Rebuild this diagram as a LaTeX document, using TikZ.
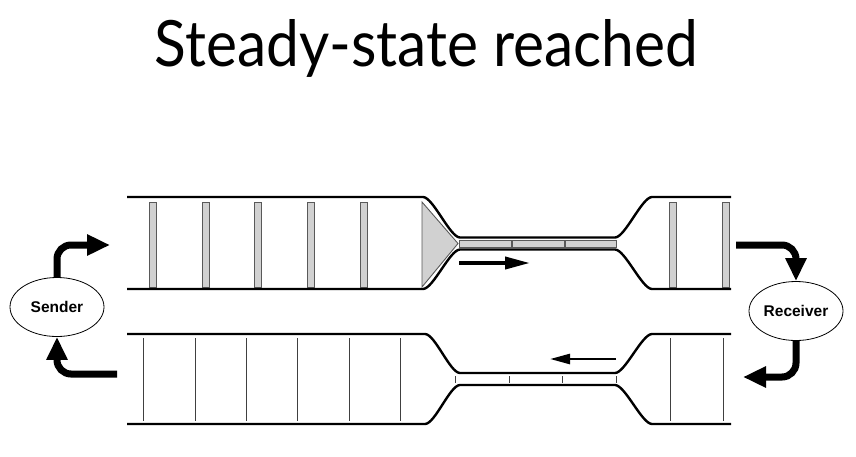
\documentclass[tikz,border=0pt]{standalone}
\usepackage{fontspec}
\usepackage{graphicx}
\usetikzlibrary{arrows.meta,shapes.geometric}
\newfontfamily\titlefont{Lato}
\newfontfamily\labelfont{Liberation Sans}
\begin{document}
\begin{tikzpicture}[x=1pt,y=-1pt,
  wall/.style={line width=2.4pt, line join=round},
  pkt/.style={fill=black!18, draw=black!65, line width=0.9pt},
  ackline/.style={draw=black!75, line width=0.9pt},
  flow/.style={line width=7pt, rounded corners=14pt, -{Triangle[length=23pt,width=20pt]}},
  party/.style={ellipse, draw, line width=0.8pt, minimum width=94pt, minimum height=59pt, inner sep=0pt,
    font=\labelfont\bfseries\fontsize{15.5}{18}\selectfont},
  dirarrow/.style={line width=3.8pt, -{Triangle[length=25pt,width=12pt]}},
  backarrow/.style={line width=2.6pt, -{Triangle[length=20pt,width=10pt]}},
]
\useasboundingbox (0,0) rectangle (856,456);

% title
\node[anchor=base, inner sep=0pt] (title) at (426.5,66) {\resizebox{543pt}{47pt}{\titlefont Steady-state reached}};

% ---------- top pipe ----------
\foreach \x in {153,206,258,311,364,673,726}
  \draw[pkt] (\x-3.5,202) rectangle (\x+3.5,287);
\draw[pkt] (422,202) -- (458,243.5) -- (422,287) -- cycle;
\draw[pkt] (459,240) rectangle (511,247);
\draw[pkt] (512,240) rectangle (564,247);
\draw[pkt] (565,240) rectangle (616,247);
\draw[wall] (127,197) -- (423,197) .. controls (433,197) and (450,237.5) .. (460,237.5) -- (615,237.5)
  .. controls (625,237.5) and (642,197) .. (652,197) -- (731,197);
\draw[wall] (127,289) -- (423,289) .. controls (433,289) and (450,249.5) .. (460,249.5) -- (615,249.5)
  .. controls (625,249.5) and (642,289) .. (652,289) -- (731,289);
\coordinate (ta) at (459,263);
\coordinate (tb) at (530,263);
\draw[dirarrow] (ta) -- (tb);

% ---------- bottom pipe ----------
\foreach \x in {143,195,246,297,349,400,670,723}
  \draw[ackline] (\x,338) -- (\x,421);
\foreach \x in {455,509,562,616}
  \draw[ackline] (\x,376) -- (\x,382.5);
\draw[wall] (127,334) -- (425,334) .. controls (435,334) and (450,373) .. (460,373) -- (615,373)
  .. controls (625,373) and (642,334) .. (652,334) -- (731,334);
\draw[wall] (127,424) -- (425,424) .. controls (435,424) and (450,385) .. (460,385) -- (615,385)
  .. controls (625,385) and (642,424) .. (652,424) -- (731,424);
\coordinate (ba) at (616,359);
\coordinate (bb) at (550,359);
\draw[backarrow] (ba) -- (bb);

% ---------- sender / receiver ----------
\node[party] (snd) at (57,307) {Sender};
\node[party] (rcv) at (796,311) {Receiver};

\coordinate (s1) at (110,245);
\coordinate (s2) at (117,374);
\coordinate (r1) at (736,245);
\coordinate (r2) at (743,377);

\draw[flow] (snd.north) |- (s1);
\draw[flow] (s2) -| (snd.south);
\draw[flow] (r1) -| (rcv.north);
\draw[flow] (rcv.south) |- (r2);
\end{tikzpicture}
\end{document}
